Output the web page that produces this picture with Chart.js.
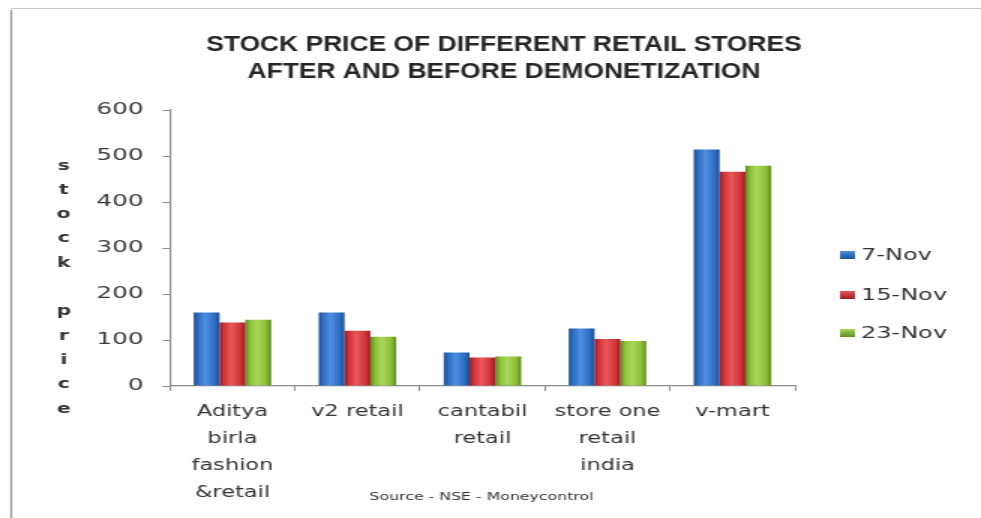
<!DOCTYPE html>
<html>
<head>
<meta charset="utf-8">
<script src="https://cdn.jsdelivr.net/npm/chart.js@4/dist/chart.umd.min.js"></script>
<style>
  html, body { margin: 0; padding: 0; background: #ffffff; }
  #wrap { width: 981px; height: 518px; overflow: hidden; }
  #c { width: 981px !important; height: 518px !important; display: block; }
</style>
</head>
<body>
<div id="wrap"><canvas id="c" width="654" height="518" style="width:981px;height:518px;"></canvas></div>
<script>
// ---- Data ----
const categories = [
  ['Aditya', 'birla', 'fashion', '&retail'],
  'v2 retail',
  ['cantabil', 'retail'],
  ['store one', 'retail', 'india'],
  'v-mart'
];
const seriesNames = ['7-Nov', '15-Nov', '23-Nov'];
const nov7  = [160, 160, 73, 125, 514];
const nov15 = [138, 120, 62, 102, 466];
const nov23 = [144, 107, 64, 98, 479];
const yTicks = [0, 100, 200, 300, 400, 500, 600];
const titleLines = ['STOCK PRICE OF DIFFERENT RETAIL STORES', 'AFTER AND BEFORE DEMONETIZATION'];
const yTitle = 'stock price';
const sourceText = 'Source - NSE - Moneycontrol';

// ---- Styles ----
const CAT_PCT = 0.62;
const palette = [
  { dark: '#1d4f93', mid: '#2f6ec4', light: '#4d8fe0' },
  { dark: '#981c1f', mid: '#d1353a', light: '#e9585a' },
  { dark: '#5d8a1e', mid: '#8dbf37', light: '#a9d859' }
];

function barFill(ctx) {
  const p = palette[ctx.datasetIndex];
  const chart = ctx.chart;
  const xs = chart.scales && chart.scales.x;
  if (ctx.type !== 'data' || !xs || !xs.width) return p.mid;
  const n = categories.length;
  const barW = (xs.width / n) * CAT_PCT / seriesNames.length;
  const center = xs.getPixelForValue(ctx.dataIndex) + (ctx.datasetIndex - 1) * barW;
  const g = chart.ctx.createLinearGradient(center - barW / 2, 0, center + barW / 2, 0);
  g.addColorStop(0, p.dark);
  g.addColorStop(0.18, p.mid);
  g.addColorStop(0.45, p.light);
  g.addColorStop(0.8, p.mid);
  g.addColorStop(1, p.dark);
  return g;
}

const decor = {
  id: 'decor',
  afterDraw(chart) {
    const ctx = chart.ctx;
    ctx.save();
    // frame lines
    ctx.strokeStyle = '#9a9a9a';
    ctx.lineWidth = 1.3;
    ctx.beginPath(); ctx.moveTo(7.5, 10); ctx.lineTo(7.5, 518); ctx.stroke();
    ctx.strokeStyle = '#c8c8c8';
    ctx.lineWidth = 1;
    ctx.beginPath(); ctx.moveTo(7, 8.5); ctx.lineTo(654, 8.5); ctx.stroke();

    // title (condensed horizontally)
    ctx.save();
    ctx.fillStyle = '#262626';
    ctx.textAlign = 'center';
    ctx.textBaseline = 'middle';
    ctx.font = 'bold 22px "Liberation Sans"';
    ctx.translate(336, 0);
    ctx.scale(0.8, 1);
    ctx.fillText(titleLines[0], 0, 45);
    ctx.fillText(titleLines[1], 0, 72);
    ctx.restore();

    ctx.textAlign = 'center';
    ctx.textBaseline = 'middle';
    // vertical stacked y-axis title
    ctx.font = 'bold 13.5px "DejaVu Sans"';
    ctx.fillStyle = '#333333';
    const letters = yTitle.split('');
    letters.forEach((ch, i) => {
      if (ch !== ' ') ctx.fillText(ch, 42.5, 166 + i * 24.3);
    });

    // legend
    const legendY = [255, 295, 333];
    ctx.textAlign = 'left';
    ctx.font = '16px "DejaVu Sans"';
    seriesNames.forEach((name, i) => {
      const p = palette[i];
      const y = legendY[i];
      const g = ctx.createLinearGradient(0, y - 4, 0, y + 4);
      g.addColorStop(0, p.light); g.addColorStop(1, p.dark);
      ctx.fillStyle = g;
      ctx.fillRect(560, y - 4, 10, 8);
      ctx.fillStyle = '#333333';
      ctx.fillText(name, 574, y + 1);
    });

    // source note
    ctx.textAlign = 'center';
    ctx.font = '10.5px "DejaVu Sans"';
    ctx.fillStyle = '#333333';
    ctx.fillText(sourceText, 321, 497);
    ctx.restore();
  }
};

new Chart(document.getElementById('c'), {
  type: 'bar',
  data: {
    labels: categories,
    datasets: [
      { label: seriesNames[0], data: nov7,  backgroundColor: barFill, borderWidth: 0 },
      { label: seriesNames[1], data: nov15, backgroundColor: barFill, borderWidth: 0 },
      { label: seriesNames[2], data: nov23, backgroundColor: barFill, borderWidth: 0 }
    ]
  },
  options: {
    responsive: false,
    devicePixelRatio: 1,
    animation: false,
    layout: { padding: { top: 110, right: 124, left: 0, bottom: 0 } },
    datasets: { bar: { barPercentage: 1.0, categoryPercentage: CAT_PCT } },
    plugins: {
      legend: { display: false },
      title: { display: false },
      tooltip: { enabled: false }
    },
    scales: {
      x: {
        grid: { display: true, drawOnChartArea: false, drawTicks: true, tickLength: 5, color: '#8c8c8c', offset: true },
        border: { display: true, color: '#8c8c8c', width: 1.2 },
        ticks: {
          font: { family: '"DejaVu Sans"', size: 15, lineHeight: 1.8 },
          color: '#333333', padding: 7.5, maxRotation: 0, minRotation: 0, autoSkip: false
        },
        afterFit(s) { s.height = 132; }
      },
      y: {
        min: 0, max: 600,
        afterBuildTicks(s) { s.ticks = yTicks.map(v => ({ value: v })); },
        grid: { display: true, drawOnChartArea: false, drawTicks: true, tickLength: 5, color: '#8c8c8c' },
        border: { display: true, color: '#8c8c8c', width: 1.2 },
        ticks: { font: { family: '"DejaVu Sans"', size: 16.5 }, color: '#3a3a3a', padding: 12.5 },
        afterFit(s) { s.width = 113.3; }
      }
    }
  },
  plugins: [decor]
});
</script>
</body>
</html>
